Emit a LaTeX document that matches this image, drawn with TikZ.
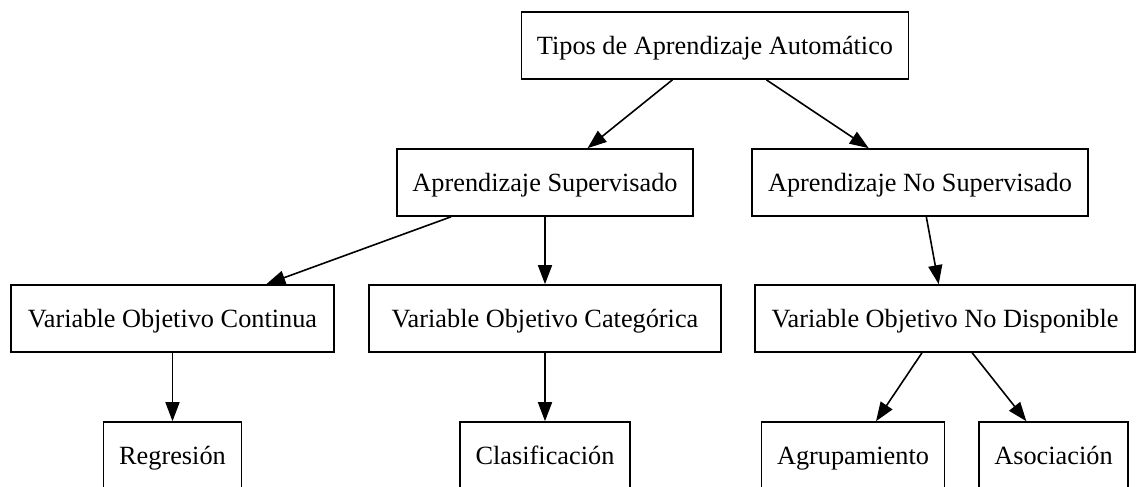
\documentclass[tikz,border=0pt]{standalone}
\usepackage{fontspec}
\setmainfont{Liberation Serif}
\usetikzlibrary{arrows.meta}
\begin{document}
\begin{tikzpicture}[x=1pt,y=-1pt,
  box/.style={draw, line width=1.6pt, inner xsep=15.5pt, inner ysep=0pt,
    minimum height=67pt, font=\fontsize{26.3}{30}\selectfont,
    text height=18pt, text depth=0pt},
  link/.style={-{Triangle[length=19pt,width=14pt]}, line width=1.6pt}]
\useasboundingbox (0,0) rectangle (1136,487);
\clip (0,0) rectangle (1136,487);

% top level
\node[box] (root) at (715,45.5) {Tipos de Aprendizaje Automático};

% learning families
\node[box, minimum width=296pt] (sup)   at (545,182.5) {Aprendizaje Supervisado};
\node[box, minimum width=336pt] (nosup) at (920,182.5) {Aprendizaje No Supervisado};

% target variable kinds
\node[box, minimum width=323pt] (cont) at (172.5,318.5) {Variable Objetivo Continua};
\node[box, minimum width=352pt] (cat)  at (545,318.5)   {Variable Objetivo Categórica};
\node[box, minimum width=380pt] (nod)  at (945,318.5)   {Variable Objetivo No Disponible};

% tasks
\node[box] (reg)  at (172.5,455.5) {Regresión};
\node[box] (cla)  at (545,455.5)   {Clasificación};
\node[box, minimum width=182pt] (agr)  at (853,455.5)   {Agrupamiento};
\node[box, minimum width=149pt] (aso)  at (1053.5,455.5) {Asociación};

\draw[link] (root) -- (sup);
\draw[link] (root) -- (nosup);
\draw[link] (sup) -- (cont);
\draw[link] (sup) -- (cat);
\draw[link] (nosup) -- (nod);
\draw[link] (cont) -- (reg);
\draw[link] (cat) -- (cla);
\draw[link] (nod) -- (agr);
\draw[link] (nod) -- (aso);
\end{tikzpicture}
\end{document}
